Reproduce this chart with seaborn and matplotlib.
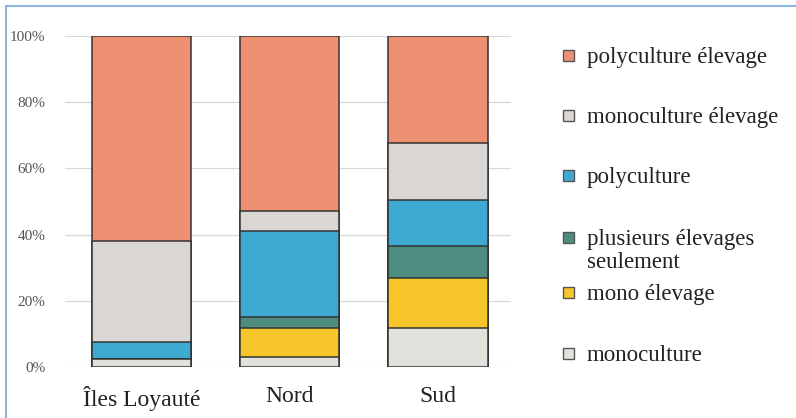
import matplotlib
matplotlib.use("Agg")
import matplotlib.pyplot as plt
from matplotlib.patches import Rectangle
from matplotlib.lines import Line2D
import numpy as np
import pandas as pd
import seaborn as sns

regions = ["Îles Loyauté", "Nord", "Sud"]

# shares (%) per farm type, listed bottom to top of each stack
categories = [
    "monoculture",
    "mono élevage",
    "plusieurs élevages\nseulement",
    "polyculture",
    "monoculture élevage",
    "polyculture élevage",
]
monoculture = [2.4, 3.1, 11.7]
mono_elevage = [0.0, 8.6, 15.1]
plusieurs_elevages = [0.0, 3.3, 9.8]
polyculture = [5.3, 26.2, 13.9]
monoculture_elevage = [30.3, 6.0, 17.1]
polyculture_elevage = [62.0, 52.8, 32.4]

colors = ["#dfe3dc", "#f7c62b", "#4e8c80", "#3ea9d1", "#dad6d3", "#ee9072"]

series = [monoculture, mono_elevage, plusieurs_elevages,
          polyculture, monoculture_elevage, polyculture_elevage]

sns.set_theme(style="white")
plt.rcParams["font.family"] = ["Liberation Serif", "DejaVu Serif"]

W, H = 796, 418
fig = plt.figure(figsize=(W / 100, H / 100), dpi=100)
ax = fig.add_axes([65 / W, (H - 367) / H, 446 / W, 331 / H])

cum = np.cumsum(np.array(series), axis=0)
# draw the tallest cumulative stack first, then overlay lower ones
for i in range(len(series) - 1, -1, -1):
    df = pd.DataFrame({"region": regions, "value": cum[i]})
    sns.barplot(data=df, x="region", y="value", color=colors[i],
                saturation=1, width=0.67, edgecolor="#333333",
                linewidth=1.1, ax=ax, zorder=3)

ax.set_ylim(0, 100)
ax.set_xlim(-0.517, 2.493)
ax.set_yticks([0, 20, 40, 60, 80, 100])
ax.set_yticklabels([f"{v}%" for v in [0, 20, 40, 60, 80, 100]],
                   fontsize=11, color="#555555")
ax.yaxis.grid(True, color="#d8d8d8", linewidth=0.9, zorder=0)
ax.set_axisbelow(True)
ax.tick_params(axis="y", length=0, pad=14)
ax.tick_params(axis="x", length=0, pad=14, labelsize=17, labelcolor="#222222")
ax.set_xlabel("")
ax.set_ylabel("")
for s in ax.spines.values():
    s.set_visible(False)

# legend drawn in figure pixels (y = centre of the first text line)
legend_items = list(zip(categories[::-1], colors[::-1]))
legend_y = [58, 118, 178, 240, 295, 356]
line_gap = 23
for (label, col), y in zip(legend_items, legend_y):
    fig.patches.append(Rectangle((563 / W, 1 - (y + 3) / H), 11 / W, 11 / H,
                                 transform=fig.transFigure, facecolor=col,
                                 edgecolor="#555555", linewidth=1.0))
    # baseline alignment refers to the last line of a multi-line label
    extra = (label.count("\n")) * line_gap
    fig.text(587 / W, 1 - (y + 5 + extra) / H, label, fontsize=16.5,
             color="#222222", va="baseline", ha="left", linespacing=1.15)

# blue frame along the top and left edges
fig.add_artist(Line2D([6 / W, 1], [1 - 6 / H, 1 - 6 / H],
                      transform=fig.transFigure, color="#8db3df", linewidth=1.5))
fig.add_artist(Line2D([6 / W, 6 / W], [0, 1 - 6 / H],
                      transform=fig.transFigure, color="#8db3df", linewidth=1.5))

fig.savefig("out.png", dpi=100)
